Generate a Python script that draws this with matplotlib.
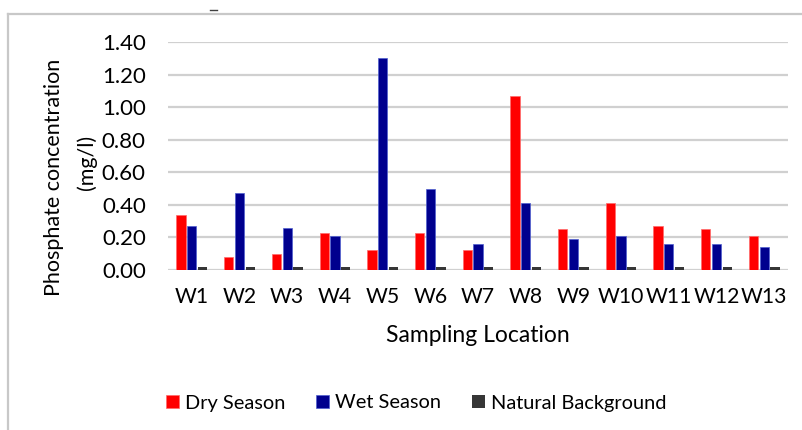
import matplotlib
matplotlib.use('Agg')
import matplotlib.pyplot as plt
import numpy as np
from matplotlib.lines import Line2D

plt.rcParams['font.family'] = ['Lato', 'DejaVu Sans']

# data
sites = ['W1', 'W2', 'W3', 'W4', 'W5', 'W6', 'W7', 'W8', 'W9', 'W10', 'W11', 'W12', 'W13']
dry = [0.34, 0.08, 0.10, 0.23, 0.12, 0.23, 0.12, 1.07, 0.25, 0.41, 0.27, 0.25, 0.21]
wet = [0.27, 0.47, 0.26, 0.21, 1.30, 0.50, 0.16, 0.41, 0.19, 0.21, 0.16, 0.16, 0.14]
background = [0.02] * 13
yticks = [0.0, 0.2, 0.4, 0.6, 0.8, 1.0, 1.2, 1.4]

fig = plt.figure(figsize=(8.03, 4.30), dpi=100)
ax = fig.add_axes([168/803, 1-270/430, 620/803, 228/430])

x = np.arange(len(sites))
w = 0.195
step = 0.225
ax.bar(x - step, dry, w, color='#FF0000', edgecolor='#FF6A6A', linewidth=0.5, label='Dry Season', zorder=3)
ax.bar(x, wet, w, color='#00008E', edgecolor='#4F5FD0', linewidth=0.5, label='Wet Season', zorder=3)
ax.bar(x + step, background, w, color='#363636', label='Natural Background', zorder=3)

ax.set_ylim(0, 1.4)
ax.set_xlim(-0.5, len(sites) - 0.5)
ax.set_yticks(yticks)
ax.set_yticklabels(['%.2f' % v for v in yticks])
ax.set_xticks(x)
ax.set_xticklabels(sites)
ax.tick_params(axis='y', length=0, pad=16, labelsize=16)
ax.tick_params(axis='x', length=0, pad=12, labelsize=15.2)
ax.yaxis.grid(True, color='#D0D0D0', linewidth=1.6, zorder=0)
for s in ax.spines.values():
    s.set_visible(False)

ax.set_xlabel('Sampling Location', fontsize=16.5, labelpad=13)
fig.text(54/803, 1-177/430, 'Phosphate concentration', rotation=90,
         ha='center', va='center', fontsize=15.5)
fig.text(87/803, 1-162/430, '(mg/l)', rotation=90,
         ha='center', va='center', fontsize=15.5)

fig.legend(loc='center', bbox_to_anchor=(416/803, 1-403/430), ncol=3, frameon=False,
           fontsize=14.4, handlelength=0.65, handleheight=0.65, handletextpad=0.3,
           columnspacing=1.55)

# chart frame
fig.add_artist(Line2D([8/803, 8/803], [0, 1-14/430], color='#C8C8C8', linewidth=1.6,
                      transform=fig.transFigure))
fig.add_artist(Line2D([8/803, 1], [1-14/430, 1-14/430], color='#C8C8C8', linewidth=1.6,
                      transform=fig.transFigure))
fig.add_artist(Line2D([210/803, 217/803], [1-10/430, 1-10/430], color='#404040', linewidth=1,
                      transform=fig.transFigure))

fig.savefig('out.png', dpi=100)
